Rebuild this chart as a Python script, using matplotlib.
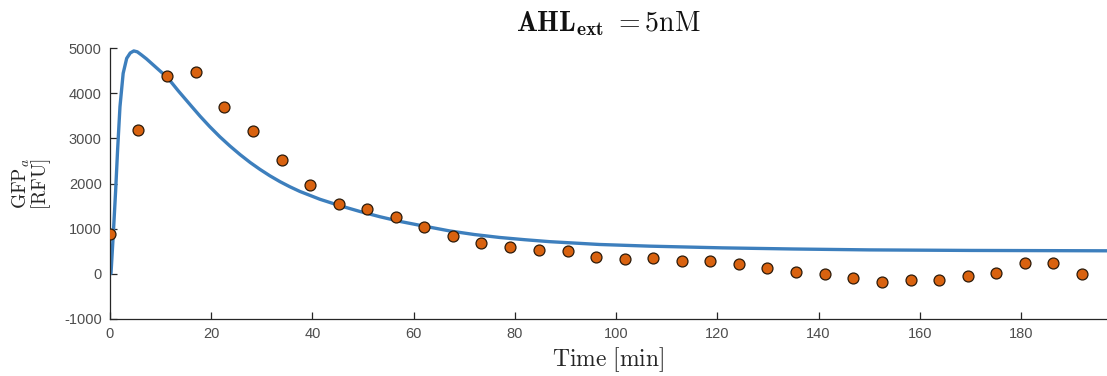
import matplotlib
matplotlib.use("Agg")
import matplotlib.pyplot as plt

plt.rcParams['mathtext.fontset'] = 'cm'
plt.rcParams['axes.unicode_minus'] = False

# Measured data (orange markers)
time_data = [0.0, 5.6, 11.3, 16.9, 22.6, 28.2, 33.9, 39.5, 45.2, 50.8,
             56.5, 62.1, 67.8, 73.4, 79.1, 84.7, 90.4, 96.0, 101.7, 107.3,
             113.0, 118.6, 124.3, 129.9, 135.6, 141.2, 146.9, 152.5, 158.2, 163.8,
             169.5, 175.1, 180.8, 186.4, 192.1]
gfp_data = [880, 3180, 4380, 4470, 3690, 3160, 2520, 1970, 1550, 1435,
            1250, 1040, 837, 682, 590, 527, 505, 365, 328, 345,
            283, 283, 213, 130, 35, -10, -88, -188, -144, -130,
            -49, 12, 235, 235, -10]

# Model curve (blue line)
time_model = [0.0, 0.2, 0.66, 1.12, 1.5, 1.97, 2.6, 3.3, 4.0, 4.7, 5.4, 6.25,
              7.2, 8.2, 9.5, 10.9, 12.2, 13.5, 14.8, 16.1, 17.8, 19.7,
              21.7, 23.7, 25.7, 27.7, 29.6, 31.6, 33.6, 35.5, 37.5, 41.5,
              45.4, 49.4, 53.3, 57.3, 61.2, 67.1, 72.0, 77.0, 82.0, 86.9,
              96.7, 106.6, 121.0, 135.0, 150.0, 170.0, 197.0]
gfp_model = [0, 10, 897, 1855, 2741, 3700, 4439, 4771, 4890, 4935, 4915, 4844,
             4760, 4660, 4530, 4390, 4230, 4050, 3880, 3710, 3490, 3260,
             3035, 2830, 2640, 2465, 2315, 2170, 2040, 1930, 1825, 1650,
             1510, 1380, 1265, 1160, 1075, 950, 870, 805, 755, 712,
             650, 613, 575, 550, 530, 518, 510]

x_ticks = [0, 20, 40, 60, 80, 100, 120, 140, 160, 180]
y_ticks = [-1000, 0, 1000, 2000, 3000, 4000, 5000]

fig = plt.figure(figsize=(11.07, 3.76), dpi=100)
ax = fig.add_axes([110/1107, 1 - 319/376, (1107 - 110)/1107, (319 - 48)/376])

ax.plot(time_model, gfp_model, color='#3d7fbd', lw=2.4, zorder=2,
        solid_joinstyle='round')
ax.scatter(time_data, gfp_data, s=62, color='#d9620f', edgecolors='#2b1a0a',
           linewidths=0.9, zorder=3)

ax.set_xlim(0, 197)
ax.set_ylim(-1000, 5000)
ax.set_xticks(x_ticks)
ax.set_yticks(y_ticks)
ax.spines['top'].set_visible(False)
ax.spines['right'].set_visible(False)
for s in ['left', 'bottom']:
    ax.spines[s].set_color('#262626')
    ax.spines[s].set_linewidth(0.9)
ax.tick_params(direction='in', length=5, width=0.9, colors='#262626',
               labelcolor='#4d4d4d', labelsize=10.5, pad=6)
for lab in ax.get_xticklabels() + ax.get_yticklabels():
    lab.set_family('Liberation Sans')

ax.set_xlabel(r'$\mathrm{Time\ [min]}$', fontsize=17, color='#262626', labelpad=3)
ax.set_ylabel('$\\mathrm{GFP}_{a}$\n$\\mathrm{[RFU]}$', fontsize=14,
              color='#262626', labelpad=8, linespacing=0.85)
ax.set_title(r'$\mathbf{AHL_{ext}}\ \mathrm{{=}5nM}$', fontsize=20,
             color='#111111', pad=12)

fig.savefig('out.png', dpi=100)
